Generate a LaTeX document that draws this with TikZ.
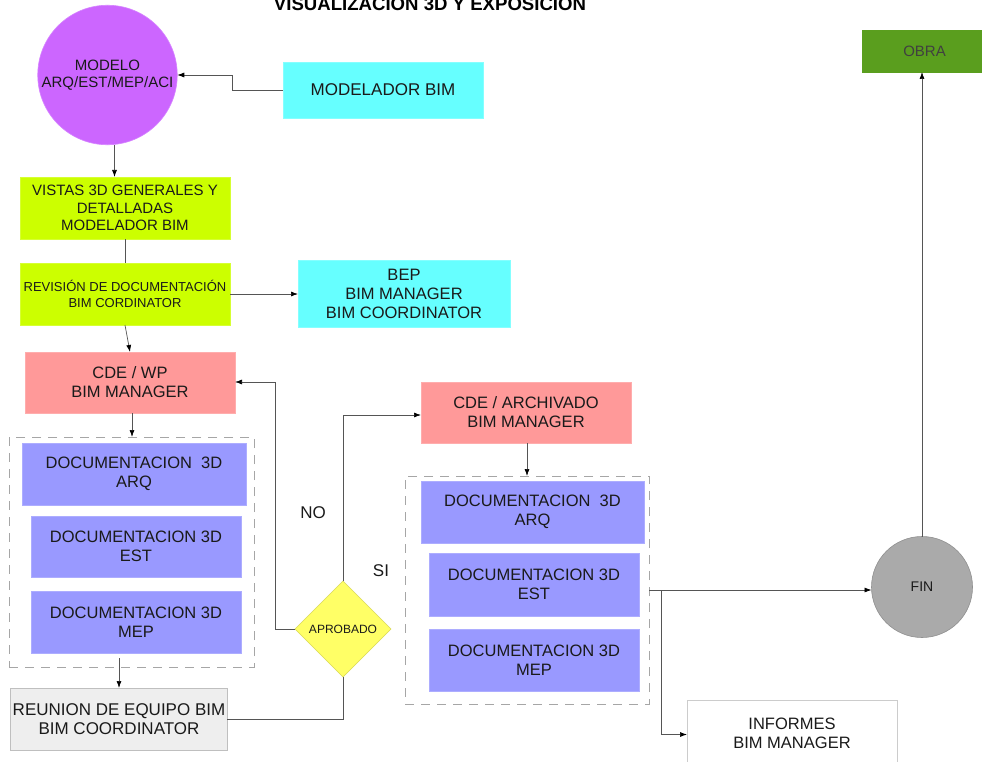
\documentclass[tikz,border=0pt]{standalone}
\usepackage{fontspec}
\setmainfont{Liberation Sans}
\usetikzlibrary{arrows.meta,shapes.geometric,calc}
\newcommand\fsz[2]{\fontsize{#1}{#2}\selectfont}
\definecolor{purp}{HTML}{CC66FF}
\definecolor{cyanb}{HTML}{66FFFF}
\definecolor{limeb}{HTML}{CCFF00}
\definecolor{salmon}{HTML}{FF9999}
\definecolor{docb}{HTML}{9999FF}
\definecolor{greyb}{HTML}{EEEEEE}
\definecolor{yelb}{HTML}{FFFF66}
\definecolor{finb}{HTML}{AAAAAA}
\definecolor{obrab}{HTML}{5A9E1E}
\definecolor{txt}{HTML}{1A1A1A}
\definecolor{lnc}{HTML}{555555}
\tikzset{
  base/.style={line width=0.6pt, inner sep=2pt, outer sep=0pt, align=center, text=txt, font=\fsz{16.5}{19}},
  boxc/.style={base, rectangle, draw=#1!80!white, fill=#1},
  grp/.style={draw=black!35, dashed, dash pattern=on 9pt off 7pt, line width=0.6pt, minimum width=245pt, minimum height=230pt, inner sep=0pt, outer sep=0pt},
  conn/.style={draw=lnc, line width=0.7pt},
  arr/.style={conn, -{Latex[length=7pt,width=5pt,black]}},
}
\begin{document}
\begin{tikzpicture}[x=1pt,y=-1pt]
\useasboundingbox[fill=white] (0,0) rectangle (982,762);
% title
\node[font=\bfseries\fsz{18.6}{20}, anchor=base, text=black, inner sep=0pt] (title) at (430,11) {VISUALIZACION 3D Y EXPOSICION};
% nodes
\node[base, circle, draw=purp!80!white, fill=purp, minimum size=139pt, font=\fsz{15}{16.5}] (model) at (107.5,75) {MODELO\\ARQ/EST/MEP/ACI};
\node[boxc=cyanb, minimum width=200pt, minimum height=56pt, font=\fsz{17}{19}] (modbim) at (383,90) {MODELADOR BIM};
\node[boxc=limeb, minimum width=210pt, minimum height=62pt, font=\fsz{15}{17.5}] (vistas) at (125,208) {VISTAS 3D GENERALES Y\\DETALLADAS\\MODELADOR BIM};
\node[boxc=limeb, minimum width=210pt, minimum height=62pt, font=\fsz{13}{16}] (revision) at (125,294) {REVISIÓN DE DOCUMENTACIÓN\\BIM CORDINATOR};
\node[boxc=cyanb, minimum width=212pt, minimum height=67pt] (bep) at (404,293.5) {BEP\\BIM MANAGER\\BIM COORDINATOR};
\node[boxc=salmon, minimum width=210pt, minimum height=61pt] (cdewp) at (130,382.5) {CDE / WP\\BIM MANAGER};
% left group
\node[grp] (grp1) at (131.5,552) {};
\node[boxc=docb, minimum width=224pt, minimum height=62pt] (docA1) at (134,474) {DOCUMENTACION\ \ 3D\\ARQ};
\node[boxc=docb, minimum width=210pt, minimum height=61pt] (docE1) at (136,546.5) {DOCUMENTACION 3D\\EST};
\node[boxc=docb, minimum width=210pt, minimum height=62pt] (docM1) at (136,622) {DOCUMENTACION 3D\\MEP};
\node[base, rectangle, draw=black!25, fill=greyb, minimum width=210pt, minimum height=62pt, font=\fsz{17}{19}] (reunion) at (119,719) {REUNION DE EQUIPO BIM\\BIM COORDINATOR};
\node[base, diamond, draw=yelb!85!black, fill=yelb, minimum width=96pt, minimum height=96pt, inner sep=0pt, font=\fsz{12}{14}] (dia) at (343,629) {APROBADO};
\node[boxc=salmon, minimum width=210pt, minimum height=61pt] (cdearch) at (526,412.5) {CDE / ARCHIVADO\\BIM MANAGER};
% right group
\node[grp, minimum width=244pt, minimum height=228pt] (grp2) at (527,590) {};
\node[boxc=docb, minimum width=223pt, minimum height=62pt] (docA2) at (532.5,512) {DOCUMENTACION\ \ 3D\\ARQ};
\node[boxc=docb, minimum width=210pt, minimum height=63pt] (docE2) at (534,584.5) {DOCUMENTACION 3D\\EST};
\node[boxc=docb, minimum width=210pt, minimum height=62pt] (docM2) at (534,660) {DOCUMENTACION 3D\\MEP};
\node[base, circle, draw=finb!85!black, fill=finb, minimum size=101pt, font=\fsz{14}{16}] (fin) at (922,587) {FIN};
\node[base, rectangle, draw=black!20, fill=white, minimum width=210pt, minimum height=66pt, font=\fsz{16.5}{19}] (informes) at (792,733) {INFORMES\\BIM MANAGER};
\node[base, rectangle, draw=obrab, fill=obrab, minimum width=125pt, minimum height=42pt, font=\fsz{15}{17}, text=black!75] (obra) at (924.5,51) {OBRA};
% labels
\node[base, font=\fsz{17}{19}] (lno) at (313,513) {NO};
\node[base, font=\fsz{17}{19}] (lsi) at (381,571) {SI};
% connectors
\draw[arr] (modbim.west) -- ++(-51,0) |- (model.east);
\draw[arr] ([xshift=7pt]model.south) -- ([xshift=7pt]model.south |- vistas.north);
\draw[conn] (vistas.south) -- (revision.north);
\draw[arr] (revision.east) -- (revision.east -| bep.west);
\draw[arr] (revision.south) -- (cdewp.north);
\draw[arr] ([xshift=2pt]cdewp.south) -- ([xshift=2pt]cdewp.south |- grp1.north);
\coordinate (g1out) at ($(grp1.south)+(-12.5,-9)$);
\draw[arr] (g1out) -- (g1out |- reunion.north);
\draw[conn] (reunion.east) -| (dia.south);
\draw[arr] (dia.west) -- ++(-20,0) |- ([yshift=0.5pt]cdewp.east);
\draw[arr] (dia.north) |- ([yshift=-2.5pt]cdearch.west);
\draw[arr] ([xshift=1pt]cdearch.south) -- ([xshift=1pt]cdearch.south |- grp2.north);
\coordinate (g2out) at ($(grp2.east)+(0,0)$);
\draw[arr] (g2out) -- (g2out -| fin.west);
\draw[arr] ($(g2out)+(12,0)$) |- ([yshift=-1.5pt]informes.west);
\draw[arr] (fin.north) -- (fin.north |- obra.south);
\end{tikzpicture}
\end{document}
